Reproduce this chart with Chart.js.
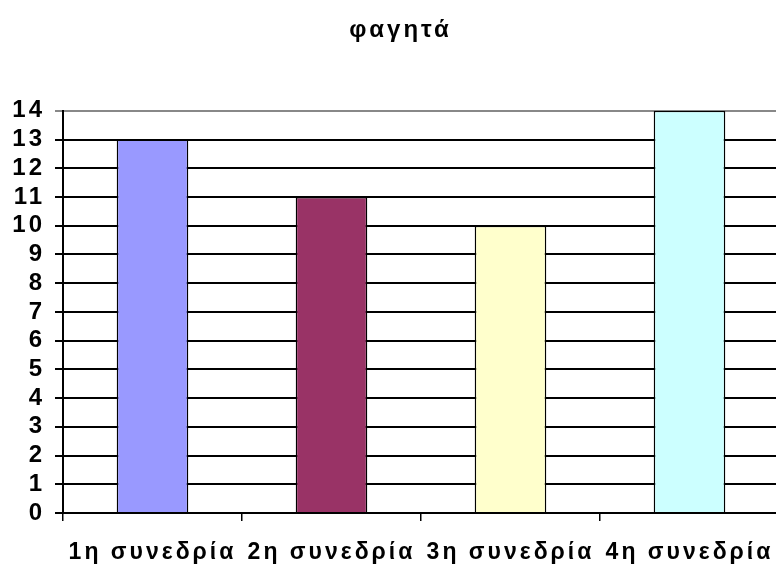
<!DOCTYPE html>
<html>
<head>
<meta charset="utf-8">
<script src="https://cdn.jsdelivr.net/npm/chart.js@4/dist/chart.umd.min.js"></script>
<style>
  html, body { margin: 0; padding: 0; background: #fff; overflow: hidden; }
  #wrap { width: 779px; height: 571px; }
</style>
</head>
<body>
<div id="wrap"><canvas id="c"></canvas></div>
<script>
var sessions = ["1η συνεδρία", "2η συνεδρία", "3η συνεδρία", "4η συνεδρία"];
var counts = [13, 11, 10, 14];
var barColors = ["#9999FF", "#993366", "#FFFFCC", "#CCFFFF"];
var yMin = 0, yMax = 14, yStep = 1;

// spaced-out lettering like the original, title nudged right a bit
var spacing = {
    id: "spacing",
    afterLayout: function(chart){ if(chart.titleBlock) chart.titleBlock.left += 22; },
    beforeDraw: function(chart){ chart.ctx.letterSpacing = "3px"; }
};

new Chart(document.getElementById("c"), {
    type: "bar",
    data: {
        labels: sessions,
        datasets: [{
            data: counts,
            backgroundColor: barColors,
            borderColor: "#000",
            borderWidth: 1.5,
            barPercentage: 0.4,
            categoryPercentage: 1
        }]
    },
    options: {
        responsive: true,
        maintainAspectRatio: false,
        animation: false,
        layout: { padding: 0 },
        plugins: {
            legend: { display: false },
            tooltip: { enabled: false },
            title: {
                display: true,
                text: "φαγητά",
                color: "#000",
                font: { family: "Liberation Sans", size: 24, weight: "bold" },
                padding: { top: 16, bottom: 66 }
            }
        },
        scales: {
            x: {
                offset: true,
                grid: { drawOnChartArea: false, drawTicks: true, tickLength: 8, color: "#000", lineWidth: 1.5 },
                border: { color: "#000", width: 2 },
                ticks: { color: "#000", padding: 18, maxRotation: 0, autoSkip: false,
                         font: { family: "Liberation Sans", size: 23, weight: "bold" } },
                afterFit: function(s){ s.height = 58; }
            },
            y: {
                min: yMin, max: yMax,
                grid: {
                    color: function(c){ return c.tick && c.tick.value === yMax ? "#888" : "#000"; },
                    lineWidth: 2, tickLength: 8
                },
                border: { color: "#000", width: 2 },
                ticks: { stepSize: yStep, autoSkip: false, color: "#000", padding: 10,
                         font: { family: "Liberation Sans", size: 24, weight: "bold" } },
                afterFit: function(s){ s.width = 63; }
            }
        }
    },
    plugins: [spacing]
});
</script>
</body>
</html>
